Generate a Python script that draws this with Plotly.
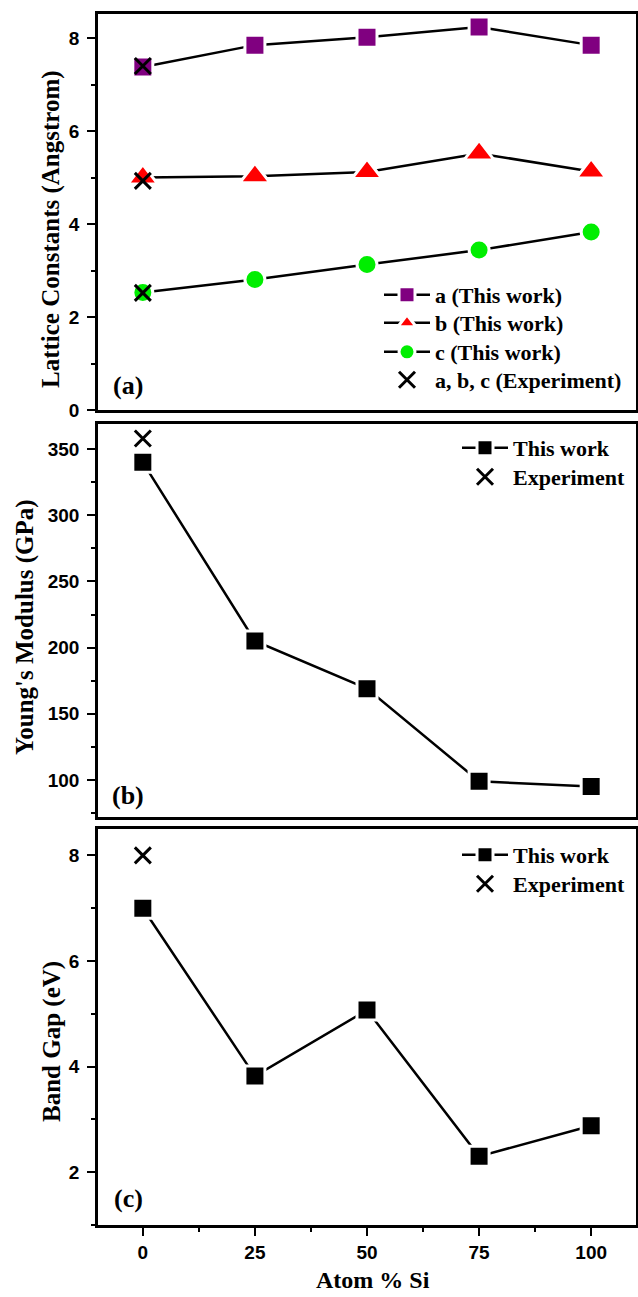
import plotly.graph_objects as go

# ---------------- data ----------------
atom_si = [0, 25, 50, 75, 100]

lat_a = [7.38, 7.85, 8.02, 8.24, 7.85]
lat_b = [5.00, 5.03, 5.12, 5.52, 5.13]
lat_c = [2.53, 2.81, 3.13, 3.44, 3.83]
lat_exp_x = [0, 0, 0]
lat_exp = [7.40, 4.93, 2.52]

young = [340, 205, 169, 99, 95]
young_exp_x = [0]
young_exp = [358]

gap = [7.0, 3.82, 5.07, 2.30, 2.88]
gap_exp_x = [0]
gap_exp = [8.0]

x_ticks = [0, 25, 50, 75, 100]

# ---------------- geometry helpers ----------------
W, H = 638, 1297
def px(x):
    return x / W
def py(y):
    return 1 - y / H

SERIF = "Liberation Serif"
SANS = "Liberation Sans"

fig = go.Figure()

def marker(sym, color, size):
    return dict(symbol=sym, color=color, size=size, line=dict(color="white", width=3))

XMARK = dict(symbol="x-thin-open", size=16, color="black", line=dict(color="black", width=3))
LINE = dict(color="black", width=2.5)

# panel (a)
fig.add_trace(go.Scatter(x=atom_si, y=lat_a, mode="lines+markers", name="a (This work)",
                         line=LINE, marker=marker("square", "#800080", 20),
                         xaxis="x", yaxis="y", legend="legend"))
fig.add_trace(go.Scatter(x=atom_si, y=lat_b, mode="lines+markers", name="b (This work)",
                         line=LINE, marker=marker("triangle-up", "#ff0000", 26),
                         xaxis="x", yaxis="y", legend="legend2"))
fig.add_trace(go.Scatter(x=atom_si, y=lat_c, mode="lines+markers", name="c (This work)",
                         line=LINE, marker=marker("circle", "#00ee00", 20),
                         xaxis="x", yaxis="y", legend="legend3"))
fig.add_trace(go.Scatter(x=lat_exp_x, y=lat_exp, mode="markers", name="a, b, c (Experiment)",
                         marker=XMARK, xaxis="x", yaxis="y", legend="legend4"))

# panel (b)
fig.add_trace(go.Scatter(x=atom_si, y=young, mode="lines+markers", name="This work",
                         line=LINE, marker=marker("square", "black", 20),
                         xaxis="x2", yaxis="y2", legend="legend5"))
fig.add_trace(go.Scatter(x=young_exp_x, y=young_exp, mode="markers", name="Experiment",
                         marker=XMARK, xaxis="x2", yaxis="y2", legend="legend6"))

# panel (c)
fig.add_trace(go.Scatter(x=atom_si, y=gap, mode="lines+markers", name="This work",
                         line=LINE, marker=marker("square", "black", 20),
                         xaxis="x3", yaxis="y3", legend="legend7"))
fig.add_trace(go.Scatter(x=gap_exp_x, y=gap_exp, mode="markers", name="Experiment",
                         marker=XMARK, xaxis="x3", yaxis="y3", legend="legend8"))

tickfont = dict(family=SANS, size=19, color="black", weight="bold")
xdom = [px(98), px(636)]

def xaxis(anchor, show):
    d = dict(domain=xdom, range=[-10, 110], anchor=anchor, showgrid=False, zeroline=False,
             showline=True, mirror=True, linecolor="black", linewidth=2.5,
             tickvals=x_ticks, showticklabels=show, ticks="outside" if show else "",
             ticklen=8, tickwidth=2, tickcolor="black", tickfont=tickfont, automargin=False)
    if show:
        d["minor"] = dict(tickvals=[12.5, 37.5, 62.5, 87.5], ticks="outside", ticklen=4,
                          tickwidth=2, tickcolor="black")
    return d

def yaxis(anchor, dom, rng, dtick, tick0, minor_dtick):
    return dict(domain=dom, range=rng, anchor=anchor, showgrid=False, zeroline=False,
                showline=True, mirror=True, linecolor="black", linewidth=2.5,
                ticks="outside", ticklen=8, tickwidth=2, tickcolor="black",
                dtick=dtick, tick0=tick0, tickfont=tickfont, ticklabelstandoff=4,
                automargin=False,
                minor=dict(dtick=minor_dtick, tick0=tick0, ticks="outside", ticklen=4,
                           tickwidth=2, tickcolor="black", showgrid=False))

legfont = dict(family=SERIF, size=22, color="black", weight="bold")

def legend(text_left, row_center):
    return dict(x=px(text_left - 63), y=py(row_center), xanchor="left", yanchor="middle",
                font=legfont, bgcolor="rgba(0,0,0,0)", borderwidth=0, itemwidth=46,
                tracegroupgap=0, itemclick=False, itemdoubleclick=False)

annots = []
def ann(text, x, y, size, angle=0):
    annots.append(dict(text=text, x=px(x), y=py(y), xref="paper", yref="paper",
                       showarrow=False, textangle=angle, xanchor="center", yanchor="middle",
                       font=dict(family=SERIF, size=size, color="black", weight="bold")))

ann("Lattice Constants (Angstrom)", 51, 229, 25, -90)
ann("Young's Modulus (GPa)", 25, 627, 25, -90)
ann("Band Gap (eV)", 52, 1042, 25, -90)
ann("Atom % Si", 373, 1280, 24)
ann("(a)", 128, 385, 26)
ann("(b)", 128, 795, 26)
ann("(c)", 128, 1198, 26)

fig.update_layout(
    width=W, height=H, margin=dict(l=0, r=0, t=0, b=0, autoexpand=False),
    paper_bgcolor="white", plot_bgcolor="white",
    showlegend=True,
    xaxis=xaxis("y", False),
    yaxis=yaxis("x", [py(410), py(14)], [0, 8.52], 2, 0, 1),
    xaxis2=xaxis("y2", False),
    yaxis2=yaxis("x2", [py(817), py(424)], [72, 369], 50, 100, 25),
    xaxis3=xaxis("y3", True),
    yaxis3=yaxis("x3", [py(1225), py(829)], [1.0, 8.5], 2, 0, 1),
    legend=legend(442, 295),
    legend2=legend(442, 323),
    legend3=legend(442, 352),
    legend4=legend(442, 380),
    legend5=legend(520, 448),
    legend6=legend(520, 477),
    legend7=legend(520, 855),
    legend8=legend(520, 884),
    annotations=annots,
)

fig.write_html(
    "out.html",
    config={"displayModeBar": False},
    post_script="document.body.style.margin='0';document.body.style.overflow='hidden';",
)
